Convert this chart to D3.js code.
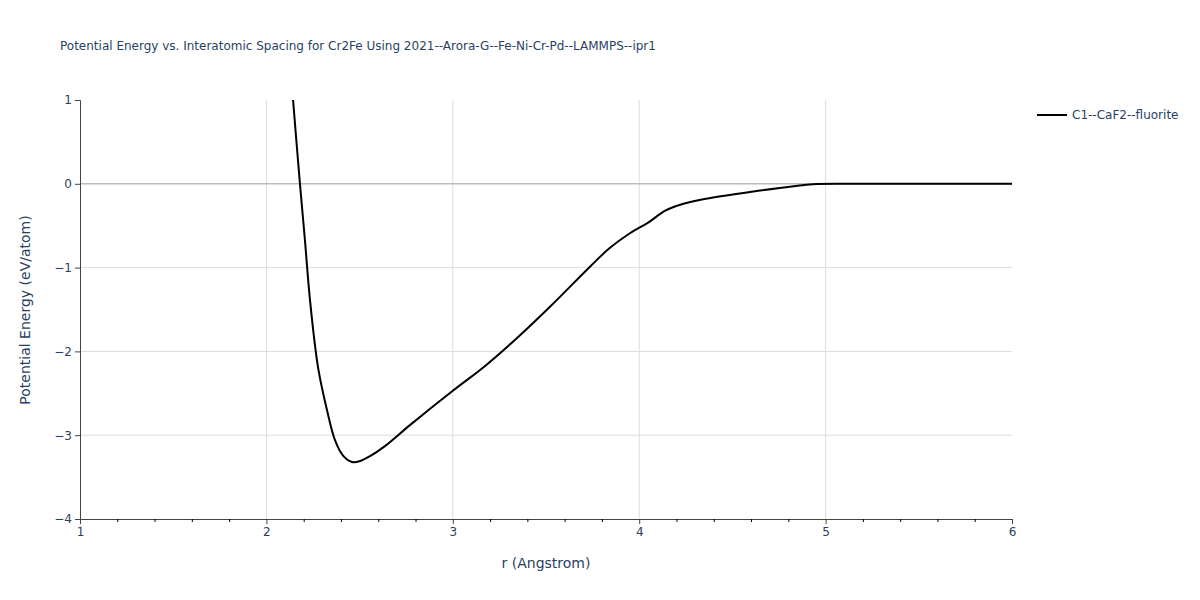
<!DOCTYPE html><html><head><meta charset="utf-8">
<script src="https://cdn.jsdelivr.net/npm/d3@7"></script>
<style>body{margin:0;background:#fff;font-family:"DejaVu Sans",sans-serif}</style></head><body>
<svg id="c" width="1200" height="600"></svg>
<script>
const rVals=[2.143,2.18,2.207,2.234,2.277,2.325,2.368,2.41,2.46,2.50,2.556,2.636,2.77,3.0,3.17,3.33,3.52,3.74,3.84,3.95,4.05,4.14,4.22,4.33,4.65,4.84,4.93,5.13,6.0];
const eVals=[1,0,-0.68,-1.39,-2.19,-2.70,-3.06,-3.24,-3.32,-3.31,-3.25,-3.13,-2.88,-2.47,-2.18,-1.87,-1.47,-0.98,-0.77,-0.59,-0.46,-0.32,-0.25,-0.19,-0.08,-0.025,-0.005,0,0];
const xTicks=[1,2,3,4,5,6], yTicks=[1,0,-1,-2,-3,-4];
const seriesName="C1--CaF2--fluorite";
const svg=d3.select("#c");
const x=d3.scaleLinear().domain([1,6]).range([80,1012]);
const y=d3.scaleLinear().domain([-4,1]).range([519,100]);
const col="#2a3f5f";
svg.append("g").selectAll("line").data(xTicks.slice(1,-1)).join("line").attr("x1",x).attr("x2",x).attr("y1",100).attr("y2",519).attr("stroke","#ddd");
svg.append("g").selectAll("line").data(yTicks.slice(1,-1)).join("line").attr("y1",y).attr("y2",y).attr("x1",80).attr("x2",1012).attr("stroke",d=>d===0?"#bbb":"#ddd").attr("stroke-width",d=>d===0?1.5:1);
svg.append("clipPath").attr("id","cp").append("rect").attr("x",80).attr("y",100).attr("width",932).attr("height",419);
svg.append("path").datum(rVals.map((r,i)=>[r,eVals[i]])).attr("clip-path","url(#cp)")
 .attr("d",d3.line().x(d=>x(d[0])).y(d=>y(d[1])).curve(d3.curveCatmullRom)).attr("fill","none").attr("stroke","#000").attr("stroke-width",2);
const xa=svg.append("g").attr("transform","translate(0,519)").call(d3.axisBottom(x).tickValues(xTicks).tickFormat(d3.format("d")).tickSize(5));
svg.append("g").attr("transform","translate(0,519)").call(d3.axisBottom(x).tickValues(d3.range(1.2,6,0.2).filter(v=>Math.abs(v-Math.round(v))>0.01)).tickFormat("").tickSize(3)).select(".domain").remove();
const ya=svg.append("g").attr("transform","translate(80,0)").call(d3.axisLeft(y).tickValues(yTicks).tickFormat(d=>d<0?"−"+(-d):d).tickSize(5));
[xa,ya].forEach(a=>{a.selectAll("text").attr("fill",col).style("font-size","12px").style("font-family","DejaVu Sans");a.selectAll("line,path").attr("stroke","#444");});
svg.append("text").attr("x",546).attr("y",568).attr("text-anchor","middle").attr("fill",col).style("font-size","14px").text("r (Angstrom)");
svg.append("text").attr("transform","translate(30,310) rotate(-90)").attr("text-anchor","middle").attr("fill",col).style("font-size","14px").text("Potential Energy (eV/atom)");
svg.append("text").attr("x",60).attr("y",50).attr("fill",col).style("font-size","12px").text("Potential Energy vs. Interatomic Spacing for Cr2Fe Using 2021--Arora-G--Fe-Ni-Cr-Pd--LAMMPS--ipr1");
svg.append("line").attr("x1",1037).attr("x2",1067).attr("y1",115).attr("y2",115).attr("stroke","#000").attr("stroke-width",2);
svg.append("text").attr("x",1072).attr("y",119).attr("fill",col).style("font-size","12px").text(seriesName);
</script></body></html>
